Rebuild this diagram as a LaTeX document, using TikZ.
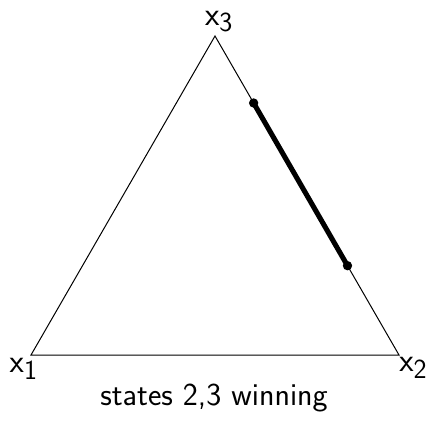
\documentclass[tikz,border=0pt]{standalone}
\usepackage{tikz}
\usetikzlibrary{calc}
\begin{document}
\begin{tikzpicture}[x=0.75pt,y=-0.75pt,
  edge/.style={line width=0.75pt},
  seg/.style={line width=3.8pt},
  dotmark/.style={circle,fill=black,inner sep=0pt,minimum size=7pt},
  lab/.style={font=\fontsize{29}{33}\selectfont\sffamily,inner sep=0pt}]
\useasboundingbox (0,0) rectangle (427,428);
\coordinate (v1) at (31,355);
\coordinate (v2) at (399,355);
\coordinate (v3) at (215,36);
\draw[edge] (v1) -- (v2) -- (v3) -- cycle;
\coordinate (p) at ($(v3)!0.21!(v2)$);
\coordinate (q) at ($(v3)!0.72!(v2)$);
\draw[seg] (p) -- (q);
\node[dotmark] (pd) at (p) {};
\node[dotmark] (qd) at (q) {};
\node[lab,anchor=south] (l3) at (219,32) {$\mathsf{x_3}$};
\node[lab,anchor=north east] (l1) at (38,358) {$\mathsf{x_1}$};
\node[lab,anchor=north west] (l2) at (399,357) {$\mathsf{x_2}$};
\node[font=\fontsize{24}{28}\selectfont\sffamily] (cap) at (214,398) {states 2,3 winning};
\end{tikzpicture}
\end{document}
